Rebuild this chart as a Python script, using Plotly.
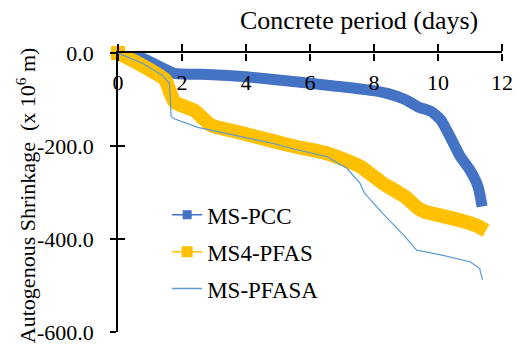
import plotly.graph_objects as go

# Autogenous shrinkage readings (x 10^6 m) against concrete age (days)
days_pcc = [0, 0.76, 1.78, 2.8, 4.0, 6.0, 7.98, 8.47, 8.97, 9.38, 9.79, 10.09, 10.4, 10.7, 11.0, 11.25, 11.38]
ms_pcc = [0, -11, -44, -46, -51, -65, -81, -88, -100, -116, -126, -144, -183, -223, -252, -287, -330]

days_pfas = [0, 0.76, 1.48, 1.63, 1.78, 2.39, 2.9, 3.8, 4.82, 5.53, 6.54, 7.56, 8.27, 8.97, 9.38, 9.58, 10.6, 11.2, 11.5]
ms4_pfas = [0, -27, -58, -85, -106, -124, -155, -171, -189, -201, -216, -244, -280, -309, -334, -341, -358, -371, -382]

days_pfasa = [0, 0.76, 1.37, 1.61, 1.66, 1.78, 2.49, 3.8, 4.82, 5.53, 6.54, 7.15, 7.56, 7.71, 8.27, 8.97, 9.33, 10.09, 11.0, 11.3, 11.39]
ms_pfasa = [0, -22, -47, -65, -137, -142, -160, -180, -194, -207, -223, -248, -280, -302, -345, -395, -424, -434, -449, -463, -488]

x_ticks = [0, 2, 4, 6, 8, 10, 12]
y_ticks = [0, -200, -400, -600]
y_tick_text = ["0.0", "-200.0", "-400.0", "-600.0"]

FONT = "Liberation Serif"
BLUE = "#4472C4"
GOLD = "#FFC000"
LIGHT_BLUE = "#5B9BD5"

fig = go.Figure()

# thick banded series
fig.add_trace(go.Scatter(x=days_pcc, y=ms_pcc, mode="lines",
                         line=dict(color=BLUE, width=11, shape="spline", smoothing=0.5),
                         showlegend=False))
fig.add_trace(go.Scatter(x=days_pfas, y=ms4_pfas, mode="lines",
                         line=dict(color=GOLD, width=14, shape="spline", smoothing=0.5),
                         showlegend=False))
# first reading drawn unclipped so it spills over the axes
fig.add_trace(go.Scatter(x=days_pfas[:1], y=ms4_pfas[:1], mode="markers",
                         marker=dict(symbol="square", size=14, color=GOLD),
                         cliponaxis=False, showlegend=False))
fig.add_trace(go.Scatter(x=days_pfasa, y=ms_pfasa, mode="lines",
                         line=dict(color=LIGHT_BLUE, width=1.2),
                         showlegend=False))

# legend entries
fig.add_trace(go.Scatter(x=[None], y=[None], mode="lines+markers", name="MS-PCC",
                         line=dict(color=BLUE, width=1.5),
                         marker=dict(symbol="square", size=9, color=BLUE),
                         legendgroup="a"))
fig.add_trace(go.Scatter(x=[None], y=[None], mode="lines+markers", name="MS4-PFAS",
                         line=dict(color=GOLD, width=1.5),
                         marker=dict(symbol="square", size=11, color=GOLD),
                         legendgroup="b"))
fig.add_trace(go.Scatter(x=[None], y=[None], mode="lines", name="MS-PFASA",
                         line=dict(color=LIGHT_BLUE, width=1.5),
                         legendgroup="c"))

# secondary axes carry the other half of each cross tick
fig.add_trace(go.Scatter(x=[None], y=[None], xaxis="x2", yaxis="y2",
                         showlegend=False, hoverinfo="skip"))

fig.update_layout(
    width=525, height=358,
    margin=dict(l=118, r=12, t=53, b=26),
    paper_bgcolor="white", plot_bgcolor="white",
    font=dict(size=22, color="black"),
    showlegend=True,
    legend=dict(x=0.128, y=0.497, xanchor="left", yanchor="top",
                bgcolor="rgba(0,0,0,0)", font=dict(family=FONT, size=23),
                tracegroupgap=4, itemwidth=30),
    xaxis=dict(range=[0, 12], side="top", anchor="y",
               showline=True, linecolor="black", linewidth=1.5,
               showgrid=False, zeroline=False,
               tickvals=x_ticks, ticks="outside", ticklen=7, tickwidth=1.5,
               tickcolor="black", showticklabels=False),
    xaxis2=dict(range=[0, 12], overlaying="x", anchor="free", position=1, side="bottom",
                showline=False, showgrid=False, zeroline=False,
                tickvals=x_ticks, ticks="outside", ticklen=7, tickwidth=1.5,
                tickcolor="black", showticklabels=True, ticklabelstandoff=3,
                tickfont=dict(family=FONT, size=22)),
    yaxis=dict(range=[-600, 0], anchor="x",
               showline=True, linecolor="black", linewidth=1.5,
               showgrid=False, zeroline=False,
               tickvals=y_ticks, ticktext=y_tick_text,
               ticks="outside", ticklen=6, tickwidth=1.5, tickcolor="black",
               ticklabelstandoff=12, tickfont=dict(family=FONT, size=22)),
    yaxis2=dict(range=[-600, 0], overlaying="y", anchor="x", side="left",
                showline=False, showgrid=False, zeroline=False,
                tickvals=y_ticks, ticks="inside", ticklen=7, tickwidth=1.5,
                tickcolor="black", showticklabels=False),
    annotations=[
        dict(text="Concrete period (days)", xref="paper", yref="paper",
             x=0.628, y=1.118, xanchor="center", yanchor="middle", showarrow=False,
             font=dict(family=FONT, size=26)),
        dict(text="Autogenous Shrinkage  (x 10<sup>6</sup> m)", xref="paper", yref="paper",
             x=-0.24, y=0.49, xanchor="center", yanchor="middle", textangle=-90,
             showarrow=False, font=dict(family=FONT, size=22)),
    ],
)

fig.write_html("out.html")
